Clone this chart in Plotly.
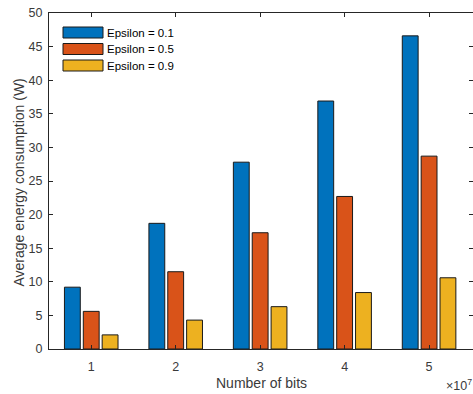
import plotly.graph_objects as go

bits = [1e7, 2e7, 3e7, 4e7, 5e7]
tick_labels = ["1", "2", "3", "4", "5"]
series_names = ["Epsilon = 0.1", "Epsilon = 0.5", "Epsilon = 0.9"]
eps_01 = [9.2, 18.7, 27.8, 36.9, 46.6]
eps_05 = [5.6, 11.5, 17.3, 22.7, 28.7]
eps_09 = [2.1, 4.3, 6.3, 8.4, 10.6]
colors = ["#0072BD", "#D95319", "#EDB120"]

W, H = 473, 394
ML, MR, MT, MB = 49, 0, 13, 45
pw, ph = W - ML - MR, H - MT - MB

def px(x):
    return (x - ML) / pw

def py(y):
    return (H - MB - y) / ph

fig = go.Figure()
for name, vals, c in zip(series_names, [eps_01, eps_05, eps_09], colors):
    fig.add_trace(go.Bar(x=bits, y=vals, name=name, marker_color=c,
                         marker_line=dict(color="#1a1a1a", width=1),
                         showlegend=False))

font = "Liberation Sans, Arial, sans-serif"
axcol = "#262626"
txtcol = "#3a3a3a"

# manual legend (MATLAB style, wide swatches)
rows_y = [32.5, 49, 65.5]
shapes = []
annotations = []
for (name, c, ry) in zip(series_names, colors, rows_y):
    shapes.append(dict(type="rect", xref="paper", yref="paper", x0=px(63), x1=px(103),
                       y0=py(ry + 5.5), y1=py(ry - 5.5),
                       fillcolor=c, line=dict(color="#1a1a1a", width=1)))
    annotations.append(dict(xref="paper", yref="paper", x=px(105), y=py(ry),
                            text=name, showarrow=False, xanchor="left", yanchor="middle",
                            font=dict(family=font, size=11.5, color="#000")))

# axis titles
annotations.append(dict(xref="paper", yref="paper", x=0.5, y=py(383), text="Number of bits",
                        showarrow=False, xanchor="center", yanchor="middle",
                        font=dict(family=font, size=14, color=txtcol)))
annotations.append(dict(xref="paper", yref="paper", x=px(18), y=py(182.5),
                        text="Average energy consumption (W)", textangle=-90,
                        showarrow=False, xanchor="center", yanchor="middle",
                        font=dict(family=font, size=14, color=txtcol)))
annotations.append(dict(xref="paper", yref="paper", x=px(444), y=py(385),
                        text="×10<sup>7</sup>", showarrow=False, xanchor="left", yanchor="middle",
                        font=dict(family=font, size=12.5, color=txtcol)))

fig.update_layout(
    width=W, height=H,
    margin=dict(l=ML, r=MR, t=MT, b=MB, pad=0, autoexpand=False),
    paper_bgcolor="white", plot_bgcolor="white",
    barmode="group", bargap=0.33, bargroupgap=0.16,
    font=dict(family=font, size=12.5, color=txtcol),
    shapes=shapes, annotations=annotations,
    xaxis=dict(range=[0.5e7, 5.52e7], tickvals=bits, ticktext=tick_labels, automargin=False,
               showgrid=False, zeroline=False, showline=True, linecolor=axcol, linewidth=1,
               mirror="ticks", ticks="inside", ticklen=4, tickcolor=axcol,
               ticklabelstandoff=6,
               tickfont=dict(size=12.5, color=txtcol)),
    yaxis=dict(range=[0, 50], dtick=5, showgrid=False, zeroline=False, showline=True,
               automargin=False,
               linecolor=axcol, linewidth=1, mirror="ticks", ticks="inside", ticklen=4,
               tickcolor=axcol, ticklabelstandoff=3,
               tickfont=dict(size=12.5, color=txtcol)),
)

fig.write_html("out.html", config={"displayModeBar": False},
               post_script="document.body.style.margin='0';document.body.style.overflow='hidden';")
